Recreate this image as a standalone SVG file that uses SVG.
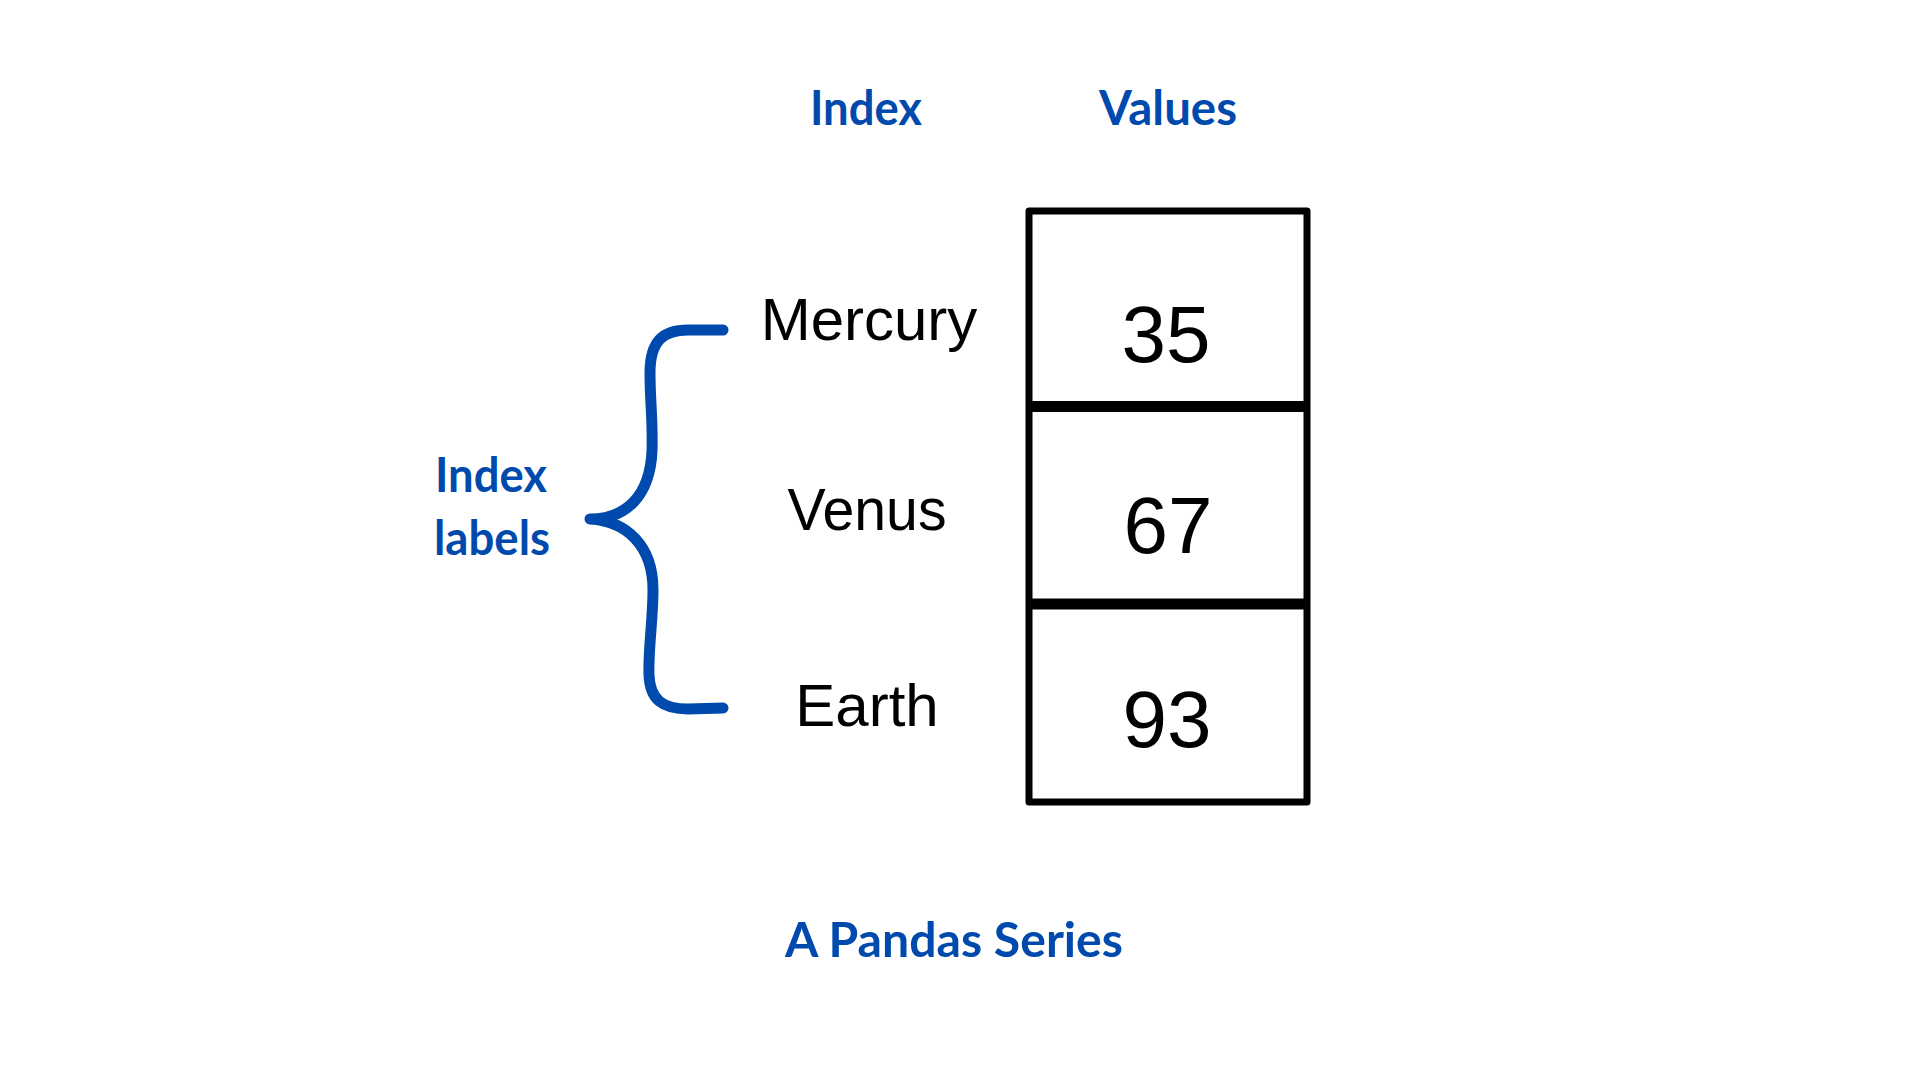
<svg xmlns="http://www.w3.org/2000/svg" width="1920" height="1080" viewBox="0 0 1920 1080">
  <style>
    .blue { font-family: Lato, "Open Sans", "DejaVu Sans", sans-serif; font-weight: 700; fill: #004aad; text-anchor: middle; }
    .lbl { font-family: "Liberation Sans", Arial, sans-serif; font-size: 60px; fill: #000000; text-anchor: middle; }
    .num { font-family: "Liberation Sans", Arial, sans-serif; font-size: 80px; fill: #000000; text-anchor: middle; }
    .cell { fill: #ffffff; stroke: #000000; stroke-width: 7; stroke-linejoin: round; }
    .div { stroke: #000000; stroke-width: 11; }
    .brace { fill: none; stroke: #004aad; stroke-width: 11; stroke-linecap: round; stroke-linejoin: round; }
  </style>
  <rect width="1920" height="1080" fill="#ffffff"/>

  <g id="header-index"><text class="blue" x="866" y="125" font-size="48" textLength="112" lengthAdjust="spacingAndGlyphs">Index</text></g>
  <g id="header-values"><text class="blue" x="1168" y="125" font-size="48" textLength="138" lengthAdjust="spacingAndGlyphs">Values</text></g>

  <g id="series-box">
    <rect class="cell" x="1029" y="211" width="278" height="591"/>
    <line class="div" x1="1029" y1="406.5" x2="1307" y2="406.5"/>
    <line class="div" x1="1029" y1="604" x2="1307" y2="604"/>
  </g>

  <g id="row-mercury">
    <text class="lbl" x="869" y="340">Mercury</text>
    <text class="num" x="1166" y="362">35</text>
  </g>
  <g id="row-venus">
    <text class="lbl" x="867" y="530" textLength="159" lengthAdjust="spacingAndGlyphs">Venus</text>
    <text class="num" x="1168" y="553">67</text>
  </g>
  <g id="row-earth">
    <text class="lbl" x="867" y="726">Earth</text>
    <text class="num" x="1167" y="747">93</text>
  </g>

  <g id="index-labels">
    <text class="blue" x="491" y="492" font-size="48" textLength="112" lengthAdjust="spacingAndGlyphs">Index</text>
    <text class="blue" x="492" y="555" font-size="48" textLength="116" lengthAdjust="spacingAndGlyphs">labels</text>
  </g>

  <g id="connectors">
    <path class="brace" d="M 723 330 L 688 330 C 663 330, 650 341, 650 373 C 650 401, 653 421, 652 451 C 650 496, 626 519, 590 519 C 626 521, 653 545, 653 590 C 653 620, 648 650, 649 675 C 650 700, 663 709, 688 709 L 723 708"/>
  </g>

  <g id="caption"><text class="blue" x="954" y="957" font-size="48" textLength="338" lengthAdjust="spacingAndGlyphs">A Pandas Series</text></g>
</svg>
